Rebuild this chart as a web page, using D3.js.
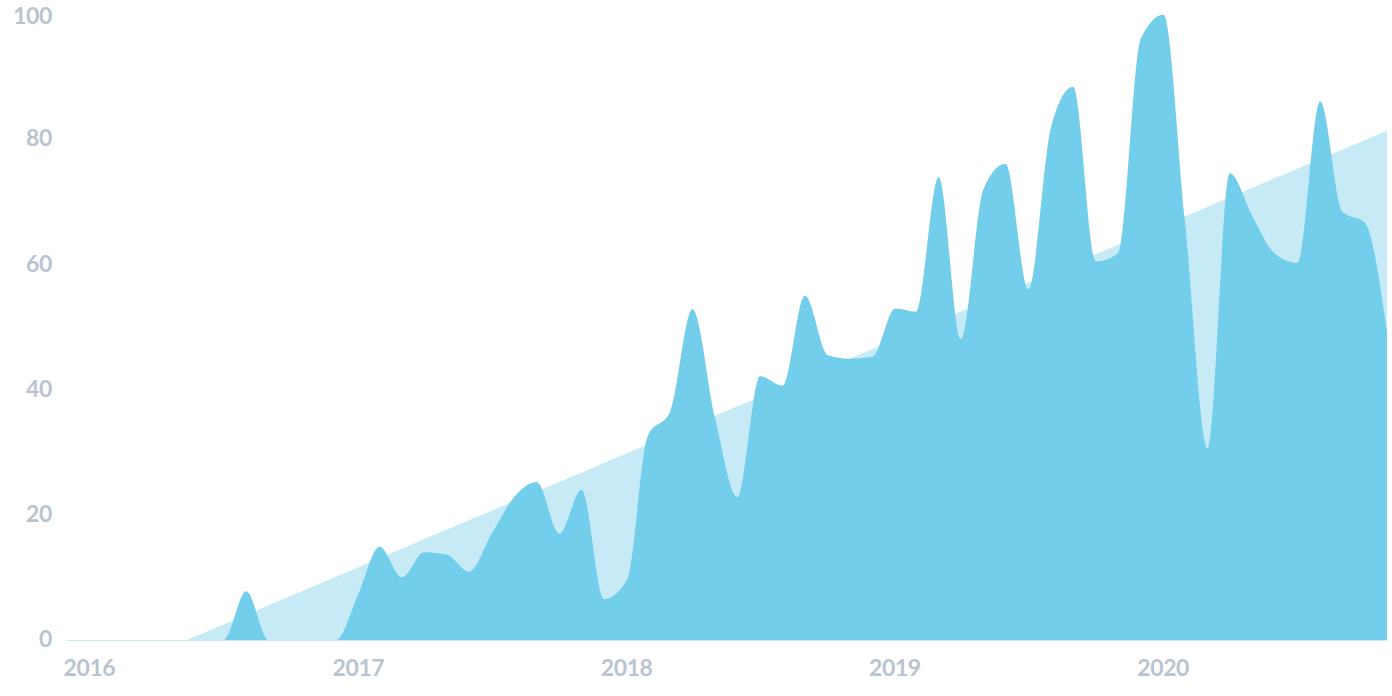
<!DOCTYPE html>
<html>
<head>
<meta charset="utf-8">
<script src="https://cdn.jsdelivr.net/npm/d3@7/dist/d3.min.js"></script>
<style>
  html, body { margin: 0; padding: 0; background: #ffffff; }
  svg { display: block; }
  .tick text { font-family: Lato, "Open Sans", sans-serif; font-weight: 700; letter-spacing: -0.4px; }
</style>
</head>
<body>
<div id="chart"></div>
<script>
// ---- data ----
const startMonth = "2016-01-01";
const endMonth = "2020-12-01";
const monthlyValues = [
  0, 0, 0, 0, 0, 0, 0, 0, 7.8, 0, 0, 0,            // 2016
  0, 7.5, 14.9, 10.0, 14.0, 13.6, 10.9, 17.0, 22.9, 25.2, 17.0, 24.0, // 2017
  6.5, 9.6, 32.5, 36.5, 52.8, 35.3, 22.8, 42.1, 40.6, 55.0, 45.5, 44.9, // 2018
  45.2, 52.9, 52.4, 73.9, 48.0, 72.0, 76.0, 56.0, 81.9, 88.3, 60.4, 61.7, // 2019
  96.0, 99.8, 67.0, 30.6, 74.5, 67.6, 61.7, 60.2, 86.0, 68.4, 66.6, 49.2  // 2020
];
const trendDates = ["2016-01-01", "2016-06-12", "2020-12-01"];
const trendValues = [0, 0, 81.3];
const yTicks = [0, 20, 40, 60, 80, 100];
const yearTicks = ["2016-01-01", "2017-01-01", "2018-01-01", "2019-01-01", "2020-01-01"];

// ---- build ----
const parse = d3.utcParse("%Y-%m-%d");
const months = d3.utcMonth.range(parse(startMonth), d3.utcMonth.offset(parse(endMonth), 1));
const series = months.map((d, i) => ({ date: d, value: monthlyValues[i] }));
const trend = trendDates.map((d, i) => ({ date: parse(d), value: trendValues[i] }));

const W = 1392, H = 696;
const svg = d3.select("#chart").append("svg").attr("width", W).attr("height", H);

const x = d3.scaleUtc().domain([parse(startMonth), parse(endMonth)]).range([67, 1387]);
const y = d3.scaleLinear().domain([0, 100]).range([640, 13.5]);

const light = "#c6ebf6";
const dark = "#72ceea";
const textColor = "#b9c4d0";

// trend area
svg.append("path")
  .datum(trend)
  .attr("fill", light)
  .attr("d", d3.area().x(d => x(d.date)).y0(y(0)).y1(d => y(d.value)));

// baseline
svg.append("line")
  .attr("x1", x(parse(startMonth))).attr("x2", x(parse(endMonth)))
  .attr("y1", y(0) + 0.5).attr("y2", y(0) + 0.5)
  .attr("stroke", light).attr("stroke-width", 1.2);

// main area
svg.append("path")
  .datum(series)
  .attr("fill", dark)
  .attr("d", d3.area().curve(d3.curveMonotoneX)
    .x(d => x(d.date)).y0(y(0)).y1(d => y(d.value)));

// y axis
const yAxis = svg.append("g")
  .attr("transform", "translate(52,0)")
  .call(d3.axisLeft(y).tickValues(yTicks).tickSize(0).tickPadding(0));
yAxis.select(".domain").remove();
yAxis.selectAll("text")
  .attr("fill", textColor).attr("font-size", 23)
  .attr("dy", d => d === 100 ? "0.42em" : "0.3em");

// x axis
const xAxis = svg.append("g")
  .attr("transform", `translate(0,${y(0)})`)
  .call(d3.axisBottom(x).tickValues(yearTicks.map(parse)).tickFormat(d3.utcFormat("%Y")).tickSize(0).tickPadding(0));
xAxis.select(".domain").remove();
xAxis.selectAll("text")
  .attr("fill", textColor).attr("font-size", 23)
  .attr("text-anchor", "start").attr("dx", -4).attr("y", 28).attr("dy", "0.35em");
</script>
</body>
</html>
